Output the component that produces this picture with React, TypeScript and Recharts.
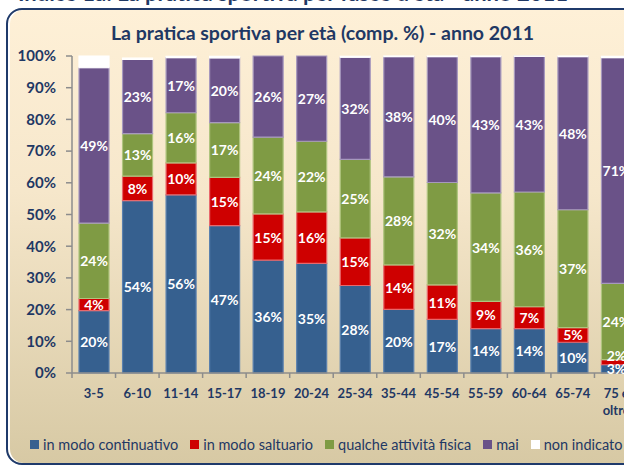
import { Bar, BarChart, LabelList, Text, XAxis, YAxis } from "recharts";

const ageGroups = ["3-5", "6-10", "11-14", "15-17", "18-19", "20-24", "25-34", "35-44", "45-54", "55-59", "60-64", "65-74", "75 e oltre"];
const continuativo = [19.7, 54.4, 56.2, 46.5, 35.6, 34.6, 27.6, 20.1, 16.9, 14.0, 14.0, 9.7, 2.6];
const saltuario = [3.8, 7.7, 10.1, 15.2, 14.6, 16.2, 15.0, 14.0, 10.9, 8.6, 6.9, 4.6, 1.6];
const qualche = [23.8, 13.4, 15.8, 17.3, 24.2, 22.3, 24.8, 27.8, 32.3, 34.2, 36.2, 37.2, 24.1];
const mai = [49.0, 23.4, 17.4, 20.4, 25.6, 26.9, 32.2, 37.9, 39.7, 43.0, 42.8, 48.3, 71.2];
const nonIndicato = [3.7, 0.4, 0.4, 0.5, 0.0, 0.0, 0.3, 0.2, 0.2, 0.2, 0.1, 0.2, 0.4];
const yTicks = [0, 10, 20, 30, 40, 50, 60, 70, 80, 90, 100];

const series = [
  { key: "cont", name: "in modo continuativo", color: "#36608F", edge: "#5A80AE", values: continuativo },
  { key: "salt", name: "in modo saltuario", color: "#CE0000", edge: "#E8686C", values: saltuario },
  { key: "qual", name: "qualche attività fisica", color: "#7F9B44", edge: "#AFC47E", values: qualche },
  { key: "mai", name: "mai", color: "#6A5288", edge: "#A698BE", values: mai },
  { key: "ni", name: "non indicato", color: "#FFFFFF", edge: "#FFFFFF", values: nonIndicato },
];

const data = ageGroups.map((age, i) => {
  const row: Record<string, string | number> = { age };
  series.forEach((s) => (row[s.key] = s.values[i]));
  return row;
});

const NAVY = "#1F3864";
const FONT = "Lato, 'Open Sans', sans-serif";
const BAND = 566 / ageGroups.length;

function AgeTick({ x, y, payload }: any) {
  return (
    <g>
      <line x1={x - BAND / 2} x2={x - BAND / 2} y1={y} y2={y + 5} stroke="#8C8C8C" strokeWidth={1.5} />
      <Text x={x} y={y + 25} width={42} textAnchor="middle" verticalAnchor="middle" lineHeight={17} fill={NAVY} fontSize={13} fontWeight="bold" fontFamily={FONT}>
        {payload.value}
      </Text>
    </g>
  );
}

// thin segments (e.g. the red one of "75 e oltre") get their label lifted, as in the original
function SegmentLabel({ x, y, width, height, value, lift }: any) {
  const thin = lift && height < 10;
  return (
    <text
      x={x + width / 2}
      y={y + height / 2 - (thin ? 7 : 0)}
      textAnchor="middle"
      dominantBaseline="central"
      fill="#FFFFFF"
      fontSize={14}
      fontWeight="bold"
      fontFamily={FONT}
    >
      {`${Math.round(Number(value))}%`}
    </text>
  );
}

export default function App() {
  return (
    <div style={{ position: "absolute", left: 0, top: 0, width: 624, height: 466, overflow: "hidden", background: "#fff", fontFamily: FONT }}>
      <div
        style={{
          position: "absolute",
          left: 0,
          width: 568,
          top: -18,
          textAlign: "right",
          whiteSpace: "nowrap",
          fontSize: 22,
          lineHeight: "22px",
          fontWeight: "bold",
          color: NAVY,
        }}
      >
        Indice 1a: La pratica sportiva per fasce d'età - anno 2011
      </div>
      <div
        style={{
          position: "absolute",
          left: 6,
          top: 8,
          width: 720,
          height: 453,
          border: "2px solid #1F3A6B",
          borderRadius: 16,
          background: "linear-gradient(#FEF0D7, #F6E7CB 40%, #D7C9A4)",
          boxShadow: "inset 2px 0 0 #FFFFFF",
        }}
      />
      <div style={{ position: "absolute", left: 0, width: 645, top: 21, textAlign: "center", fontSize: 19.5, fontWeight: "bold", color: NAVY }}>
        La pratica sportiva per età (comp. %) - anno 2011
      </div>
      <div style={{ position: "absolute", left: 0, top: 0 }}>
        <BarChart width={660} height={466} data={data} margin={{ top: 56, right: 22, left: 12, bottom: 0 }} style={{ fontFamily: FONT }}>
          <XAxis
            dataKey="age"
            height={93}
            interval={0}
            tickSize={0}
            tickMargin={0}
            axisLine={{ stroke: "#8C8C8C", strokeWidth: 1.5 }}
            tick={<AgeTick />}
          />
          <YAxis
            width={60}
            domain={[0, 100]}
            ticks={yTicks}
            interval={0}
            tickFormatter={(v) => `${v}%`}
            tickSize={6}
            tickMargin={10}
            axisLine={{ stroke: "#8C8C8C", strokeWidth: 1.5 }}
            tickLine={{ stroke: "#8C8C8C", strokeWidth: 1.5 }}
            tick={{ fill: NAVY, fontSize: 15, fontWeight: "bold" }}
          />
          {series.map((s) => (
            <Bar
              key={s.key}
              dataKey={s.key}
              name={s.name}
              stackId="a"
              fill={s.color}
              stroke={s.edge}
              strokeWidth={1.2}
              barSize={30}
              isAnimationActive={false}
            >
              {s.key !== "ni" && (
                <LabelList dataKey={s.key} content={(p: any) => <SegmentLabel {...p} lift={s.key === "salt"} />} />
              )}
            </Bar>
          ))}
        </BarChart>
      </div>
      <div style={{ position: "absolute", left: 30, top: 436, display: "flex", alignItems: "center", whiteSpace: "nowrap", fontSize: 14.5, color: NAVY }}>
        {series.map((s) => (
          <span key={s.key} style={{ display: "flex", alignItems: "center", marginRight: 12 }}>
            <span style={{ width: 9, height: 9, background: s.color, marginRight: 4, display: "inline-block" }} />
            {s.name}
          </span>
        ))}
      </div>
    </div>
  );
}
